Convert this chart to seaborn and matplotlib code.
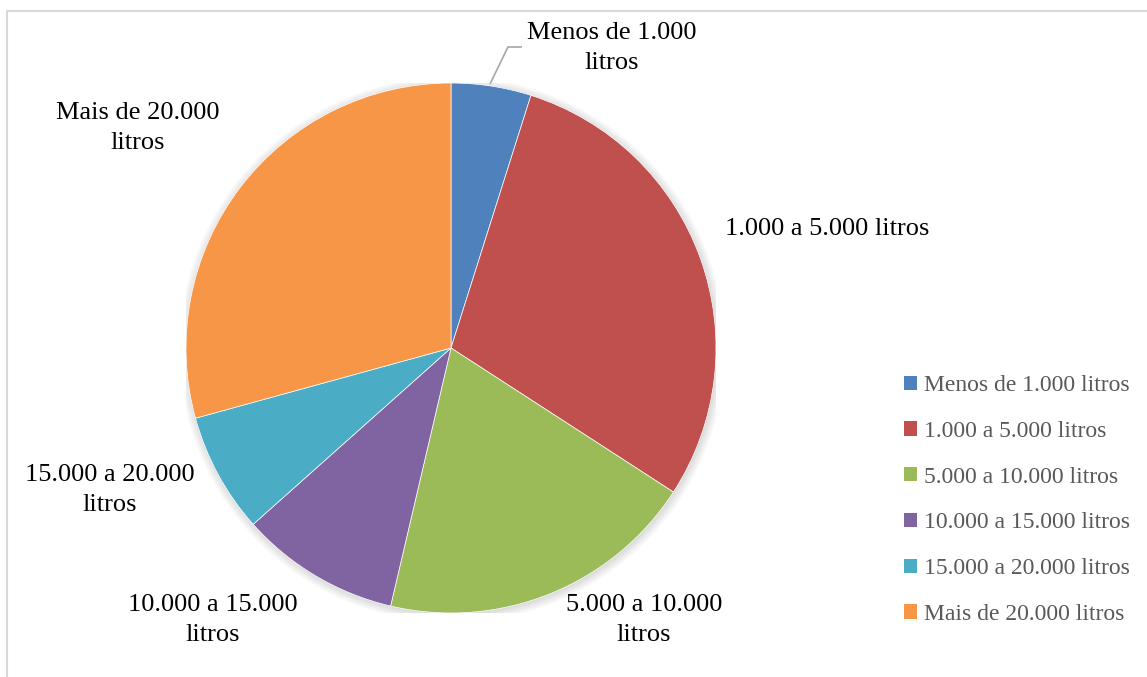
import matplotlib
matplotlib.use("Agg")
import matplotlib.pyplot as plt
from matplotlib.patches import Patch, Rectangle, Circle
import seaborn as sns

categories = [
    "Menos de 1.000 litros",
    "1.000 a 5.000 litros",
    "5.000 a 10.000 litros",
    "10.000 a 15.000 litros",
    "15.000 a 20.000 litros",
    "Mais de 20.000 litros",
]
counts = [2, 12, 8, 4, 3, 12]
slice_labels = [
    "Menos de 1.000\nlitros",
    "1.000 a 5.000 litros",
    "5.000 a 10.000\nlitros",
    "10.000 a 15.000\nlitros",
    "15.000 a 20.000\nlitros",
    "Mais de 20.000\nlitros",
]
colors = ["#4F81BD", "#C0504D", "#9BBB59", "#8064A2", "#4BACC6", "#F79646"]

sns.set_theme(style="white")
plt.rcParams["font.family"] = ["Liberation Serif", "DejaVu Serif"]
palette = sns.color_palette(colors)

W, H = 1147, 677
fig = plt.figure(figsize=(W / 100, H / 100), dpi=100)
fig.patch.set_facecolor("white")

# chart frame
fig.add_artist(Rectangle((7 / W, -0.01), 1.05, 1 - 11 / H + 0.01,
                         transform=fig.transFigure, fill=False,
                         edgecolor="#D9D9D9", linewidth=1.5))

cx, cy, r = 451, 348, 265
ax = fig.add_axes([(cx - r) / W, (H - cy - r) / H, 2 * r / W, 2 * r / H])

# soft drop shadow under the pie
for i in range(6):
    ax.add_patch(Circle((0.004, -0.006), 1.0 + 0.006 * i, facecolor="black",
                        edgecolor="none", alpha=0.025, zorder=0))

ax.pie(counts, colors=palette, startangle=90, counterclock=False,
       radius=1.0, wedgeprops=dict(linewidth=0.5, edgecolor="white", zorder=1))
ax.set_xlim(-1, 1)
ax.set_ylim(-1, 1)
ax.set_aspect("equal")
ax.axis("off")


def to_data(px, py):
    return (px - cx) / r, (cy - py) / r


label_pos = [(612, 48), (827, 229), (644, 620), (213, 620), (110, 490), (138, 128)]
for text, (px, py) in zip(slice_labels, label_pos):
    x, y = to_data(px, py)
    ax.text(x, y, text, ha="center", va="center", fontsize=19,
            color="black", linespacing=1.42, clip_on=False)

# leader line for the smallest slice
lx = [to_data(p, q) for p, q in [(490, 84), (508, 47), (522, 47)]]
ax.plot([p[0] for p in lx], [p[1] for p in lx], color="#A6A6A6",
        linewidth=1.2, clip_on=False, solid_capstyle="butt")

handles = [Patch(facecolor=c, edgecolor="none") for c in palette]
leg = fig.legend(handles, categories, loc="upper left",
                 bbox_to_anchor=(904 / W, 1 - 375 / H), frameon=False,
                 fontsize=17, labelcolor="#595959", handlelength=0.55,
                 handleheight=0.55, handletextpad=0.3, labelspacing=1.05,
                 borderpad=0, borderaxespad=0)

fig.savefig("out.png", dpi=100, facecolor="white")
